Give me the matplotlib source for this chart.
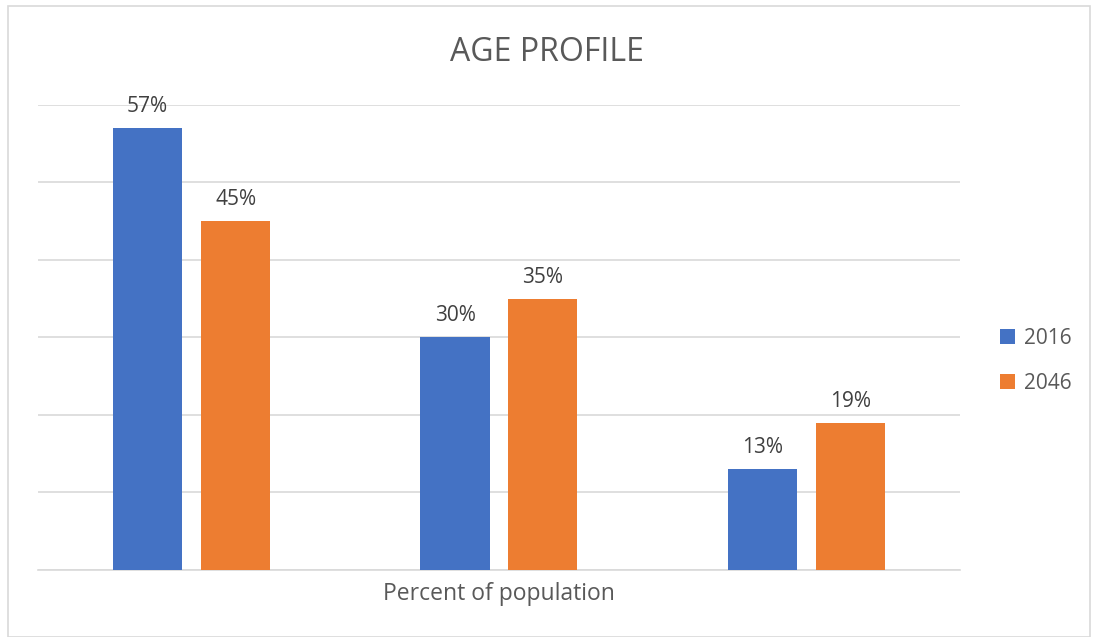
# Age profile: share of population in each age group, 2016 vs 2046.

import numpy as np
import matplotlib.pyplot as plt
from matplotlib.patches import Rectangle

plt.rcParams['font.family'] = ['Open Sans', 'DejaVu Sans']

years = ['2016', '2046']
share_2016 = [57, 30, 13]
share_2046 = [45, 35, 19]
colors = ['#4472C4', '#ED7D31']
text_color = '#595959'
label_color = '#404040'

fig = plt.figure(figsize=(10.94, 6.37), dpi=100)
ax = fig.add_axes([0.0347, 0.1052, 0.8428, 0.73])

x = np.arange(len(share_2016))
width = 0.225
offset = 0.143

bars1 = ax.bar(x - offset, share_2016, width, color=colors[0], label=years[0], zorder=3)
bars2 = ax.bar(x + offset, share_2046, width, color=colors[1], label=years[1], zorder=3)

for bars in (bars1, bars2):
    for b in bars:
        ax.annotate(f'{b.get_height():.0f}%',
                    (b.get_x() + b.get_width() / 2, b.get_height()),
                    xytext=(0, 8), textcoords='offset points',
                    ha='center', va='bottom', fontsize=15, color=label_color)

ax.set_xlim(-0.5, 2.5)
ax.set_ylim(0, 60)
ax.set_yticks(range(0, 61, 10))
ax.yaxis.grid(True, color='#D9D9D9', linewidth=1.2, zorder=0)
ax.set_xticks([])
ax.tick_params(left=False, labelleft=False)
for s in ['top', 'right', 'left']:
    ax.spines[s].set_visible(False)
ax.spines['bottom'].set_color('#D9D9D9')
ax.spines['bottom'].set_linewidth(1.2)

ax.set_xlabel('Percent of population', fontsize=16.5, color=text_color, labelpad=9)
fig.text(0.5, 0.918, 'AGE PROFILE', ha='center', va='center', fontsize=23, color=text_color)

ax.legend(loc='center left', bbox_to_anchor=(1.023, 0.45), frameon=False,
          fontsize=15, labelcolor=text_color, handlelength=0.7, handleheight=0.7,
          handletextpad=0.45, labelspacing=1.15)

# thin outer frame around the whole chart
fig.patches.append(Rectangle((0.0075, 0.0), 0.989, 0.99, transform=fig.transFigure,
                             fill=False, edgecolor='#D9D9D9', linewidth=1.2))

fig.savefig('out.png', dpi=100)
